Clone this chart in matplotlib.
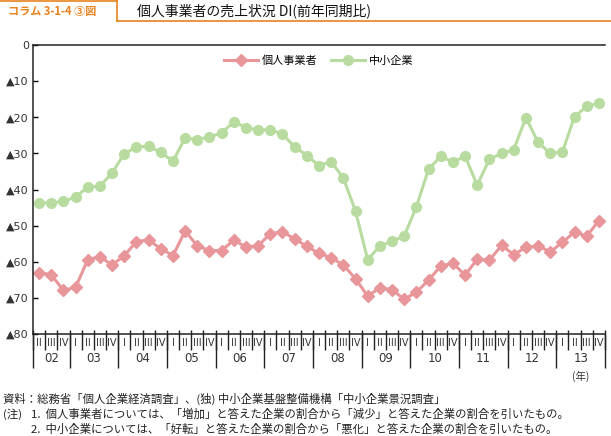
import numpy as np
import matplotlib.pyplot as plt

plt.rcParams['font.family'] = ['Noto Sans CJK JP', 'DejaVu Sans']

# quarterly DI, 2002 Q2 .. 2013 Q4 (negative values shown as ▲)
kojin = [-63.0, -63.6, -67.9, -67.1, -59.4, -58.6, -60.9, -58.3, -54.4, -54.0,
         -56.4, -58.3, -51.5, -55.6, -56.9, -56.9, -54.0, -55.9, -55.6, -52.2,
         -51.7, -53.7, -55.7, -57.7, -58.9, -60.9, -64.7, -69.5, -67.2, -67.7,
         -70.4, -68.4, -65.1, -61.2, -60.4, -63.7, -59.3, -59.6, -55.5, -58.0,
         -56.0, -55.6, -57.3, -54.6, -51.8, -52.9, -48.6]
chusho = [-43.7, -43.7, -43.3, -42.1, -39.3, -39.1, -35.4, -30.1, -28.2, -28.0,
          -29.7, -32.2, -25.7, -26.2, -25.4, -24.4, -21.2, -22.9, -23.5, -23.5,
          -24.7, -28.2, -30.6, -33.4, -32.3, -36.8, -46.0, -59.4, -55.7, -54.3,
          -52.9, -44.8, -34.4, -30.8, -32.4, -30.8, -38.8, -31.6, -30.0, -29.0,
          -20.1, -26.9, -30.0, -29.6, -19.8, -17.0, -16.1]
quarters = ['II', 'III', 'IV'] + ['I', 'II', 'III', 'IV'] * 11
years = ['02', '03', '04', '05', '06', '07', '08', '09', '10', '11', '12', '13']
yticks = [0, -10, -20, -30, -40, -50, -60, -70, -80]
ylabels = ['0'] + ['▲%d' % abs(v) for v in yticks[1:]]

pink = '#E8969A'
green = '#B8DCA0'
orange = '#E8821E'
dark = '#333333'

fig = plt.figure(figsize=(6.11, 4.36), dpi=100)
ax = fig.add_axes([33 / 611, 1 - 334 / 436, 572 / 611, 289 / 436])

x = np.arange(len(kojin))
ax.plot(x, kojin, color=pink, lw=2.2, marker='D', ms=6.5, mec=pink, label='個人事業者')
ax.plot(x, chusho, color=green, lw=2.2, marker='o', ms=7, mec=green, label='中小企業')

ax.set_xlim(-0.5, len(x) - 0.5)
ax.set_ylim(-80, 0)
ax.set_yticks(yticks)
ax.set_yticklabels(ylabels, fontsize=8, color=dark, family=['DejaVu Sans'])
ax.tick_params(axis='y', direction='in', length=3.5, width=1, pad=3)
ax.set_xticks([])
for s in ['left', 'top', 'bottom']:
    ax.spines[s].set_linewidth(1.1)
    ax.spines[s].set_color('#222222')
ax.spines['right'].set_visible(False)

# quarter / year table below the axis
tr = ax.get_xaxis_transform()
bounds = np.arange(-0.5, len(x), 1.0)
ax.vlines(bounds, -0.055, 0.014, transform=tr, color='#222222', lw=1, clip_on=False)
year_starts = [-0.5] + list(np.arange(2.5, len(x), 4.0))
ax.vlines(year_starts, -0.118, 0, transform=tr, color='#222222', lw=1, clip_on=False)
for i, q in enumerate(quarters):
    ax.text(i, -0.03, q, transform=tr, ha='center', va='center', fontsize=7,
            color=dark, family=['DejaVu Sans'])
for k, yr in enumerate(years):
    c = 1 if k == 0 else 3 + 4 * (k - 1) + 1.5
    ax.text(c, -0.086, yr, transform=tr, ha='center', va='center', fontsize=8.5,
            color=dark, family=['DejaVu Sans'])
ax.text(44.5, -0.145, '(年)', transform=tr, ha='center', va='center', fontsize=7.5,
        color=dark)

ax.legend(loc='upper center', bbox_to_anchor=(0.5, 1.0), ncol=2, frameon=False,
          fontsize=8, handlelength=3, columnspacing=1.2, handletextpad=0.4)

# header
fig.add_artist(plt.Line2D([0, 117 / 611], [1 - 1 / 436] * 2, color=orange, lw=1.2))
fig.add_artist(plt.Line2D([117 / 611] * 2, [1 - 1 / 436, 1 - 21 / 436], color=orange, lw=1.2))
fig.add_artist(plt.Line2D([117 / 611, 1], [1 - 21 / 436] * 2, color=orange, lw=1.2))
fig.text(8 / 611, 1 - 11 / 436, 'コラム 3-1-4 ③図', color=orange, fontsize=8,
         fontweight='bold', va='center', ha='left')
fig.text(137 / 611, 1 - 11 / 436, '個人事業者の売上状況 DI(前年同期比)', color='#111111',
         fontsize=10, va='center', ha='left')

# notes
fs = 8.2
fig.text(3 / 611, 1 - 399 / 436, '資料：総務省「個人企業経済調査」、(独) 中小企業基盤整備機構「中小企業景況調査」',
         fontsize=fs, color='#222222', va='center')
fig.text(3 / 611, 1 - 414 / 436, '(注)', fontsize=fs, color='#222222', va='center')
fig.text(31 / 611, 1 - 414 / 436, '1.  個人事業者については、「増加」と答えた企業の割合から「減少」と答えた企業の割合を引いたもの。',
         fontsize=fs, color='#222222', va='center')
fig.text(31 / 611, 1 - 429 / 436, '2.  中小企業については、「好転」と答えた企業の割合から「悪化」と答えた企業の割合を引いたもの。',
         fontsize=fs, color='#222222', va='center')

fig.savefig('out.png', dpi=100)
